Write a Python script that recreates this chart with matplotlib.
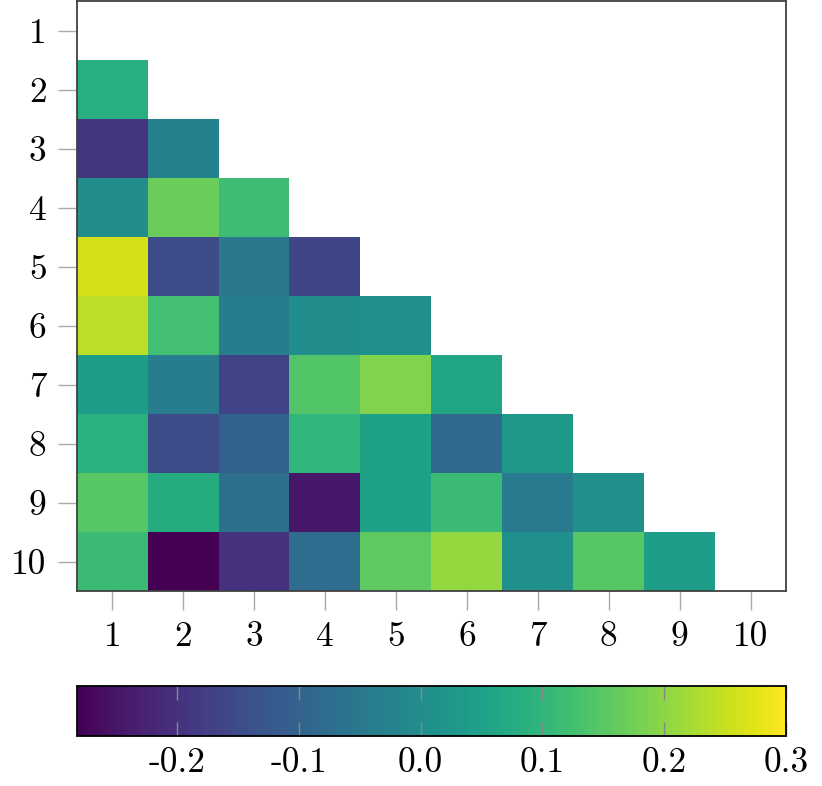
import numpy as np
import matplotlib
matplotlib.use("Agg")
from matplotlib import pyplot as plt

plt.rcParams['font.family'] = 'cmr10'
plt.rcParams['axes.unicode_minus'] = False
plt.rcParams['mathtext.fontset'] = 'cm'

# lower triangle of the matrix, row 2..10, columns 1..row-1
rows = [
  [0.085],
  [-0.189, -0.026],
  [0.003, 0.166, 0.120],
  [0.262, -0.148, -0.049, -0.160],
  [0.242, 0.125, -0.038, 0.003, 0.009],
  [0.044, -0.038, -0.166, 0.143, 0.190, 0.061],
  [0.090, -0.148, -0.102, 0.102, 0.050, -0.084, 0.032],
  [0.149, 0.079, -0.067, -0.247, 0.050, 0.114, -0.043, 0.009],
  [0.114, -0.282, -0.200, -0.073, 0.155, 0.207, 0.009, 0.149, 0.041],
]
labels = [str(i) for i in range(1, 11)]
cbar_ticks = [-0.2, -0.1, 0.0, 0.1, 0.2, 0.3]
vmin = -0.282
vmax = 0.3

n = len(labels)
mat = np.full((n, n), np.nan)
for i, r in enumerate(rows):
  mat[i + 1, :len(r)] = r

fig = plt.figure(figsize=(8.22, 7.86), dpi=100)
ax = fig.add_axes([0.0937, 0.248, 0.8625, 0.7505])
im = ax.imshow(mat, cmap='viridis', vmin=vmin, vmax=vmax, aspect='auto',
               interpolation='nearest',
               extent=[0.5, n + 0.5, n + 0.5, 0.5])
ax.set_xlim(0.5, n + 0.5)
ax.set_ylim(n + 0.5, 0.5)
ax.set_xticks(range(1, n + 1))
ax.set_yticks(range(1, n + 1))
ax.set_xticklabels(labels)
ax.set_yticklabels(labels)
ax.tick_params(direction='out', length=14, width=1, color='#aaaaaa',
               labelsize=25.5, pad=8)
for s in ax.spines.values():
  s.set_color('#404040')
  s.set_linewidth(1.3)

cax = fig.add_axes([0.0937, 0.0636, 0.8625, 0.0636])
cb = fig.colorbar(im, cax=cax, orientation='horizontal')
cb.set_ticks(cbar_ticks)
cb.set_ticklabels(['%.1f' % t for t in cbar_ticks])
cax.tick_params(direction='in', top=True, bottom=True, length=10, width=1,
                color='#888888', labelsize=25.5, pad=8)
cb.outline.set_linewidth(1.3)
cb.outline.set_edgecolor('black')

plt.savefig("out.png", dpi=100)
